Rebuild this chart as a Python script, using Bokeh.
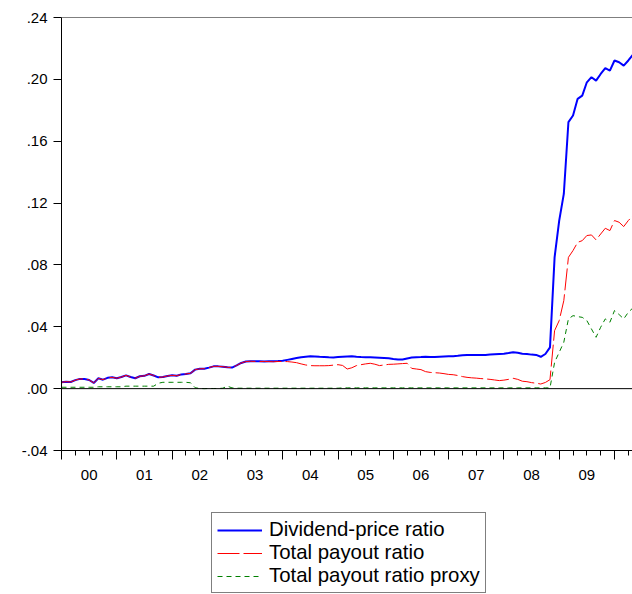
from bokeh.plotting import figure
from bokeh.models import (LinearAxis, FixedTicker, Span, Legend, LegendItem,
                          Range1d, ColumnDataSource)
from bokeh.layouts import column
from bokeh.embed import file_html
from bokeh.resources import INLINE

# ---------------- data (monthly, Jan 2000 onward) ----------------
dividend_price = [
    .0041, .0045, .0043, .0055, .0063, .0062, .0056, .0037, .0067, .0058, .0070, .0073,
    .0067, .0075, .0086, .0075, .0067, .0080, .0083, .0095, .0085, .0073, .0075, .0082,
    .0086, .0083, .0092, .0095, .0099, .0123, .0128, .0129, .0136, .0144, .0144, .0142,
    .0138, .0136, .0150, .0166, .0175, .0177, .0177, .0177, .0176, .0177, .0177, .0178,
    .0180, .0186, .0192, .0198, .0203, .0206, .0209, .0208, .0206, .0205, .0203, .0202,
    .0204, .0206, .0208, .0209, .0206, .0204, .0203, .0203, .0202, .0200, .0198, .0196,
    .0192, .0189, .0188, .0195, .0201, .0203, .0204, .0206, .0205, .0204, .0206, .0208,
    .0210, .0210, .0212, .0216, .0218, .0218, .0217, .0218, .0218, .0220, .0222, .0224,
    .0226, .0230, .0235, .0232, .0226, .0224, .0220, .0218, .0206, .0224, .0267, .0849,
    .1087, .1259, .1723, .1766, .1874, .1895, .1981, .2014, .1992, .2035, .2072, .2057,
    .2122, .2111, .2089, .2122, .2160,
]

total_payout = [
    .0041, .0045, .0043, .0055, .0063, .0062, .0056, .0037, .0067, .0058, .0070, .0073,
    .0067, .0075, .0086, .0075, .0067, .0080, .0083, .0095, .0085, .0073, .0075, .0082,
    .0086, .0083, .0092, .0095, .0099, .0123, .0128, .0129, .0136, .0144, .0144, .0142,
    .0138, .0136, .0150, .0166, .0175,
    .0177, .0176, .0175, .0176, .0175, .0174, .0176, .0175, .0175, .0172, .0168, .0160,
    .0153, .0149, .0148, .0148, .0148, .0149, .0152, .0155, .0150, .0127, .0135, .0149,
    .0155, .0160, .0164, .0158, .0149, .0153, .0157, .0158, .0160, .0162, .0164, .0131,
    .0127, .0123, .0110, .0105, .0103, .0101, .0097, .0092, .0090, .0085, .0078, .0073,
    .0070, .0068, .0065, .0063, .0060, .0056, .0052, .0055, .0060, .0067, .0060, .0048,
    .0045, .0039, .0035, .0030, .0040, .0058, .0375, .0440, .0569, .0849, .0893, .0946,
    .0957, .0990, .0994, .0962, .1000, .1037, .1022, .1087, .1076, .1048, .1087, .1119,
]

payout_proxy = [
    .0009, .0009, .0009, .0009, .0009, .0009, .0009, .0009,
    .0012, .0012, .0012, .0012, .0012, .0012,
    .0016, .0016, .0016, .0016, .0016, .0016, .0016,
    .0035,
    .0041, .0041, .0041, .0041, .0041, .0041,
    .0038, .0006,
    .0001, .0000, .0001, .0001, .0001, .0003,
    .0016, .0005,
    .0003, .0003, .0003, .0003, .0003, .0003, .0003, .0003, .0003, .0003, .0003, .0003,
    .0003, .0003, .0003, .0003, .0003, .0003, .0003, .0003, .0003, .0003, .0003,
    .0005, .0005, .0005, .0005, .0005, .0005, .0005, .0005, .0005, .0005, .0005, .0005,
    .0005, .0005, .0005, .0005, .0005, .0005, .0005, .0005, .0005, .0005, .0005, .0005,
    .0005, .0005, .0005, .0005, .0005, .0005, .0005, .0005, .0005, .0005, .0005, .0005,
    .0005, .0005, .0005, .0005, .0005, .0005, .0005, .0005, .0005, .0005,
    .0170, .0235, .0300, .0451, .0472, .0466, .0461, .0440, .0386, .0332, .0397, .0451,
    .0429, .0505, .0479, .0451, .0494, .0522,
]

series_names = ["Dividend-price ratio", "Total payout ratio", "Total payout ratio proxy"]
years = [2000, 2001, 2002, 2003, 2004, 2005, 2006, 2007, 2008, 2009, 2010]
year_labels = ["00", "01", "02", "03", "04", "05", "06", "07", "08", "09"]
y_ticks = [-0.04, 0.0, 0.04, 0.08, 0.12, 0.16, 0.20, 0.24]
y_tick_labels = ["-.04", ".00", ".04", ".08", ".12", ".16", ".20", ".24"]

months = [2000 + i / 12 for i in range(len(dividend_price))]
src = ColumnDataSource(dict(x=months, dp=dividend_price, tp=total_payout, pr=payout_proxy))

FONT = "Liberation Sans"
COLORS = ["#0000FF", "#FF0000", "#008000"]
WIDTHS = [2, 1, 1]
DASHES = ["solid", "22 4", "5 4"]
COLS = ["dp", "tp", "pr"]

# ---------------- main chart ----------------
p = figure(width=632, height=500, output_backend="svg",
           toolbar_location=None,
           x_range=Range1d(2000, 2000 + 571 / 55.3), y_range=Range1d(-0.04, 0.24),
           x_axis_location=None, y_axis_location=None,
           min_border_left=61, min_border_top=17, min_border_right=0,
           min_border_bottom=50)
p.outline_line_color = None
p.grid.visible = False
p.background_fill_color = "white"
p.border_fill_color = "white"

yaxis = LinearAxis(ticker=FixedTicker(ticks=y_ticks),
                   major_label_overrides=dict(zip(y_ticks, y_tick_labels)),
                   major_tick_out=8, major_tick_in=0, minor_tick_out=0, minor_tick_in=0,
                   major_label_text_font=FONT, major_label_text_font_size="15px",
                   major_label_text_color="black", major_label_standoff=6,
                   axis_line_color="black", major_tick_line_color="black")
p.add_layout(yaxis, "left")

quarters = [y + q / 4 for y in years for q in range(4)]
xaxis1 = LinearAxis(ticker=FixedTicker(ticks=years, minor_ticks=quarters),
                    major_label_overrides={y: "" for y in years},
                    major_tick_out=9, major_tick_in=0, minor_tick_out=5, minor_tick_in=0,
                    major_label_text_font_size="1px", major_label_standoff=0,
                    axis_line_color="black", major_tick_line_color="black",
                    minor_tick_line_color="black")
p.add_layout(xaxis1, "below")

mid_years = [y + 0.5 for y in years[:-1]]
xaxis2 = LinearAxis(ticker=FixedTicker(ticks=mid_years, minor_ticks=[]),
                    major_label_overrides=dict(zip(mid_years, year_labels)),
                    axis_line_color=None, major_tick_line_color=None,
                    minor_tick_line_color=None, major_tick_out=0, major_tick_in=0,
                    major_label_text_font=FONT, major_label_text_font_size="15px",
                    major_label_text_color="black", major_label_standoff=10)
p.add_layout(xaxis2, "below")

p.add_layout(Span(location=0.0, dimension="width", line_color="black", line_width=1))
p.add_layout(Span(location=0.24, dimension="width", line_color="black", line_width=1))

for col, c, w, d in zip(COLS, COLORS, WIDTHS, DASHES):
    p.line("x", col, source=src, line_color=c, line_width=w, line_dash=d)

# ---------------- legend strip (series drawn out of view; only the key shows) ----------------
q = figure(width=632, height=94, output_backend="svg", toolbar_location=None,
           x_range=Range1d(0, 1), y_range=Range1d(10, 11),
           x_axis_location=None, y_axis_location=None,
           min_border_left=0, min_border_right=0, min_border_top=0, min_border_bottom=0)
q.outline_line_color = None
q.grid.visible = False
q.background_fill_color = "white"
q.border_fill_color = "white"

items = []
for name, col, c, w, d in zip(series_names, COLS, COLORS, WIDTHS, DASHES):
    r = q.line("x", col, source=src, line_color=c, line_width=w, line_dash=d)
    items.append(LegendItem(label=name, renderers=[r]))

legend = Legend(items=items, location=(150, 1), orientation="vertical",
                border_line_color="black", border_line_width=1,
                label_text_font=FONT, label_text_font_size="20.4px",
                label_text_color="black",
                glyph_width=45, glyph_height=20, label_height=20,
                spacing=0, padding=5, margin=0, label_standoff=7,
                background_fill_color="white")
q.add_layout(legend, "center")

layout = column(p, q, spacing=0)
open("out.html", "w").write(file_html(layout, INLINE))
